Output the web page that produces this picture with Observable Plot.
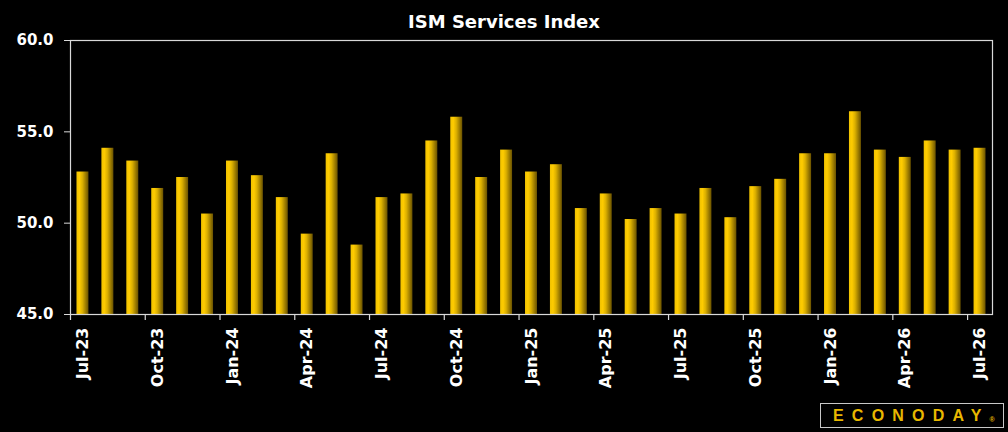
<!DOCTYPE html>
<html>
<head>
<meta charset="utf-8">
<script src="https://cdn.jsdelivr.net/npm/d3@7"></script>
<script src="https://cdn.jsdelivr.net/npm/@observablehq/plot@0.6"></script>
<style>
  html, body { margin: 0; padding: 0; background: #000; }
  #wrap { position: relative; width: 1008px; height: 432px; background: #000; overflow: hidden; }
  #title { position: absolute; left: 0; top: 4px; width: 1008px; line-height: 36px; text-align: center;
           color: #fff; font-family: "DejaVu Sans", sans-serif; font-weight: bold; font-size: 18px; }
  #chart { position: absolute; left: 0; top: 30px; }
  #logo { position: absolute; left: 820px; top: 403px; width: 184px; height: 25px; border: 1px solid #c8c8c8;
          box-sizing: border-box; color: #e8b800; font-family: "Liberation Sans", sans-serif; font-weight: bold;
          font-size: 16px; line-height: 23px; padding-left: 12px; white-space: nowrap; }
  #logo .word { letter-spacing: 8.2px; }
  #logo .reg { font-size: 7px; vertical-align: -1px; margin-left: 0; }
</style>
</head>
<body>
<div id="wrap">
  <div id="title">ISM Services Index</div>
  <div id="chart"></div>
  <div id="logo"><span class="word">ECONODAY</span><span class="reg">®</span></div>
</div>
<script>
const months = [
  "Jul-23","Aug-23","Sep-23","Oct-23","Nov-23","Dec-23",
  "Jan-24","Feb-24","Mar-24","Apr-24","May-24","Jun-24",
  "Jul-24","Aug-24","Sep-24","Oct-24","Nov-24","Dec-24",
  "Jan-25","Feb-25","Mar-25","Apr-25","May-25","Jun-25",
  "Jul-25","Aug-25","Sep-25","Oct-25","Nov-25","Dec-25",
  "Jan-26","Feb-26","Mar-26","Apr-26","May-26","Jun-26","Jul-26"
];
const values = [
  52.8, 54.1, 53.4, 51.9, 52.5, 50.5,
  53.4, 52.6, 51.4, 49.4, 53.8, 48.8,
  51.4, 51.6, 54.5, 55.8, 52.5, 54.0,
  52.8, 53.2, 50.8, 51.6, 50.2, 50.8,
  50.5, 51.9, 50.3, 52.0, 52.4, 53.8,
  53.8, 56.1, 54.0, 53.6, 54.5, 54.0, 54.1
];
const xTickLabels = ["Jul-23","Oct-23","Jan-24","Apr-24","Jul-24","Oct-24","Jan-25","Apr-25","Jul-25","Oct-25","Jan-26","Apr-26","Jul-26"];
const yTicks = [45, 50, 55, 60];
const yMin = 45, yMax = 60;

const data = months.map((m, i) => ({month: m, value: values[i]}));

const W = 1008, H = 402;
const mL = 70, mR = 16, mT = 10, mB = 118;
const step = (W - mL - mR) / months.length;

const defs = () => {
  const d = d3.create("svg:defs");
  const g = d.append("linearGradient").attr("id", "goldGrad")
    .attr("x1", "0").attr("x2", "1").attr("y1", "0").attr("y2", "0");
  g.append("stop").attr("offset", "0%").attr("stop-color", "#f0c200");
  g.append("stop").attr("offset", "25%").attr("stop-color", "#ffcc00");
  g.append("stop").attr("offset", "50%").attr("stop-color", "#dcb000");
  g.append("stop").attr("offset", "100%").attr("stop-color", "#6a5200");
  return d.node();
};

const chart = Plot.plot({
  width: W, height: H,
  marginLeft: mL, marginRight: mR, marginTop: mT, marginBottom: mB,
  style: {background: "#000", color: "#fff", fontFamily: "DejaVu Sans, sans-serif", fontWeight: "bold", fontSize: "15px", overflow: "visible"},
  x: {type: "band", domain: months, paddingInner: 0.52, paddingOuter: 0.26, round: false},
  y: {domain: [yMin, yMax]},
  marks: [
    defs,
    Plot.barY(data, {x: "month", y1: () => yMin, y2: "value", fill: "url(#goldGrad)"}),
    Plot.frame({stroke: "#d9d9d9", strokeWidth: 1.2}),
    Plot.ruleX(xTickLabels, {x: d => d, y1: () => yMin, y2: () => yMin, insetBottom: -6, dx: -step / 2, stroke: "#d9d9d9", strokeWidth: 1.2}),
    Plot.axisY({ticks: yTicks, tickFormat: d3.format(".1f"), tickSize: 6, tickPadding: 11, stroke: "#d9d9d9", fill: "#fff", fontSize: 15, label: null}),
    Plot.axisX({ticks: xTickLabels, tickSize: 0, tickPadding: 13, tickRotate: -90, fill: "#fff", fontSize: 16, label: null})
  ]
});
document.getElementById("chart").appendChild(chart);
</script>
</body>
</html>
